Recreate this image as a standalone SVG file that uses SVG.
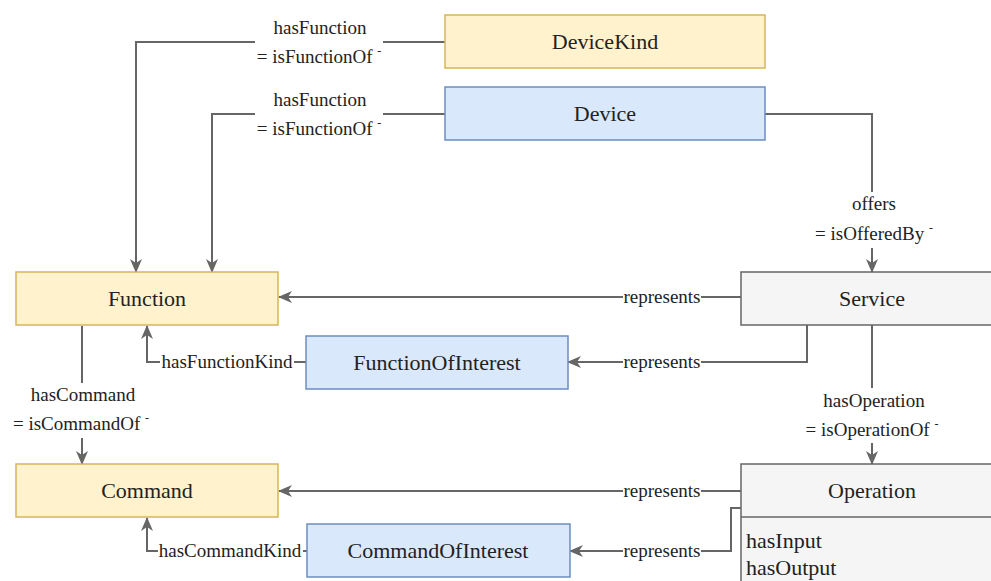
<svg xmlns="http://www.w3.org/2000/svg" width="991" height="581" viewBox="0 0 991 581">
<style>
text{font-family:"Liberation Serif","Times New Roman","DejaVu Serif",serif}
.nt{font-size:22px;fill:#222;text-anchor:middle}
.bt{font-size:22px;fill:#222}
.lt{font-size:19px;fill:#222;text-anchor:middle}
.sup{font-size:12px}
.yel{fill:#fff2cc;stroke:#d6b656;stroke-width:1.5}
.blu{fill:#dae8fc;stroke:#6c8ebf;stroke-width:1.5}
.gry{fill:#f5f5f5;stroke:#666666;stroke-width:1.5}
.c{fill:none;stroke:#666666;stroke-width:2}
.bg{fill:#ffffff}
</style>
<defs>
<marker id="arr" markerUnits="userSpaceOnUse" markerWidth="14" markerHeight="12" viewBox="0 0 14 12" refX="13" refY="6" orient="auto">
<path d="M0,0 L14,6 L0,12 L4,6 Z" fill="#666666"/>
</marker>
</defs>
<rect width="991" height="581" fill="#ffffff"/>
<g id="connectors">
<path class="c" d="M445,42 H136 V272" marker-end="url(#arr)"/>
<path class="c" d="M445,114 H212 V272" marker-end="url(#arr)"/>
<path class="c" d="M765,114 H872 V272" marker-end="url(#arr)"/>
<path class="c" d="M741,297 H279" marker-end="url(#arr)"/>
<path class="c" d="M807,325 V362 H568" marker-end="url(#arr)"/>
<path class="c" d="M306,362 H147 V326" marker-end="url(#arr)"/>
<path class="c" d="M82,326 V464" marker-end="url(#arr)"/>
<path class="c" d="M872,325 V464" marker-end="url(#arr)"/>
<path class="c" d="M741,491 H279" marker-end="url(#arr)"/>
<path class="c" d="M741,508 H731 V551 H570" marker-end="url(#arr)"/>
<path class="c" d="M307,551 H147 V518" marker-end="url(#arr)"/>
</g>
<g id="labels" font-family="Liberation Serif, Times New Roman, serif">
<rect class="bg" x="255" y="16" width="128" height="54"/>
<text class="lt" x="320" y="34">hasFunction</text>
<text class="lt" x="319" y="63">= isFunctionOf <tspan class="sup" dy="-8">-</tspan></text>
<rect class="bg" x="255" y="88" width="128" height="54"/>
<text class="lt" x="320" y="106">hasFunction</text>
<text class="lt" x="319" y="135">= isFunctionOf <tspan class="sup" dy="-8">-</tspan></text>
<rect class="bg" x="811" y="192" width="126" height="56"/>
<text class="lt" x="874" y="210">offers</text>
<text class="lt" x="874" y="240">= isOfferedBy <tspan class="sup" dy="-8">-</tspan></text>
<rect class="bg" x="623" y="287" width="78" height="20"/>
<text class="lt" x="662" y="303">represents</text>
<rect class="bg" x="623" y="352" width="78" height="20"/>
<text class="lt" x="662" y="368">represents</text>
<rect class="bg" x="160" y="352" width="134" height="20"/>
<text class="lt" x="227" y="368">hasFunctionKind</text>
<rect class="bg" x="8" y="383" width="146" height="55"/>
<text class="lt" x="83" y="401">hasCommand</text>
<text class="lt" x="81" y="430">= isCommandOf <tspan class="sup" dy="-8">-</tspan></text>
<rect class="bg" x="801" y="388" width="142" height="55"/>
<text class="lt" x="874" y="407">hasOperation</text>
<text class="lt" x="872" y="436">= isOperationOf <tspan class="sup" dy="-8">-</tspan></text>
<rect class="bg" x="623" y="481" width="78" height="20"/>
<text class="lt" x="662" y="497">represents</text>
<rect class="bg" x="623" y="541" width="78" height="20"/>
<text class="lt" x="662" y="557">represents</text>
<rect class="bg" x="158" y="541" width="145" height="20"/>
<text class="lt" x="230" y="557">hasCommandKind</text>
</g>
<g id="DeviceKind">
<rect class="yel" x="445" y="15" width="320" height="53"/>
<text class="nt" x="605" y="49">DeviceKind</text>
</g>
<g id="Device">
<rect class="blu" x="445" y="87" width="320" height="53"/>
<text class="nt" x="605" y="121">Device</text>
</g>
<g id="Function">
<rect class="yel" x="16" y="272" width="262" height="53"/>
<text class="nt" x="147" y="306">Function</text>
</g>
<g id="FunctionOfInterest">
<rect class="blu" x="306" y="336" width="262" height="53"/>
<text class="nt" x="437" y="370">FunctionOfInterest</text>
</g>
<g id="Service">
<rect class="gry" x="741" y="272" width="262" height="53"/>
<text class="nt" x="872" y="306">Service</text>
</g>
<g id="Command">
<rect class="yel" x="16" y="464" width="262" height="53"/>
<text class="nt" x="147" y="498">Command</text>
</g>
<g id="CommandOfInterest">
<rect class="blu" x="307" y="524" width="263" height="53"/>
<text class="nt" x="438" y="558">CommandOfInterest</text>
</g>
<g id="Operation">
<rect class="gry" x="741" y="464" width="262" height="140"/>
<line x1="741" y1="517" x2="1003" y2="517" stroke="#666666" stroke-width="1.5"/>
<text class="nt" x="872" y="498">Operation</text>
<text class="bt" x="746" y="548">hasInput</text>
<text class="bt" x="746" y="575">hasOutput</text>
</g>
</svg>
